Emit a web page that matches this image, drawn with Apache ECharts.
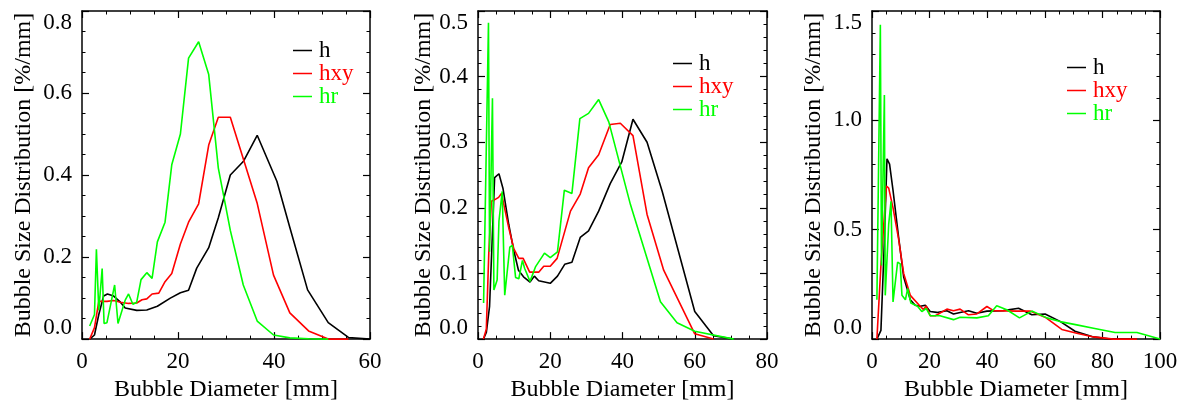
<!DOCTYPE html>
<html>
<head>
<meta charset="utf-8">
<script src="https://cdn.jsdelivr.net/npm/echarts@6/dist/echarts.min.js"></script>
<style>
html,body{margin:0;padding:0;background:#fff;}
#chart{width:1184px;height:407px;}
</style>
</head>
<body>
<div id="chart"></div>
<script>
// ---- Panel 1 data ----
const h1x = [1.6, 2.6, 3.5, 4.5, 5.3, 6.6, 8.0, 9.0, 11.4, 13.5, 15.7, 18.4, 20.5, 22.2, 23.9, 26.4, 28.4, 30.9, 33.6, 36.5, 40.6, 43.3, 47.0, 51.3, 55.5, 60];
const h1y = [0, 0.01, 0.06, 0.105, 0.11, 0.105, 0.09, 0.076, 0.07, 0.071, 0.08, 0.10, 0.113, 0.119, 0.173, 0.223, 0.296, 0.40, 0.433, 0.497, 0.385, 0.272, 0.12, 0.04, 0.004, 0];
const r1x = [1.6, 2.6, 3.5, 5.2, 6.6, 8.0, 9.7, 11.4, 12.5, 13.5, 14.6, 16.0, 17.3, 18.7, 20.5, 22.2, 24.3, 26.4, 28.4, 30.9, 33.6, 36.5, 39.9, 43.3, 47.2, 51.3, 55.5];
const r1y = [0, 0.028, 0.092, 0.092, 0.094, 0.09, 0.087, 0.088, 0.096, 0.098, 0.11, 0.112, 0.14, 0.16, 0.232, 0.285, 0.33, 0.473, 0.541, 0.541, 0.44, 0.331, 0.156, 0.064, 0.02, 0.0, 0];
const g1x = [1.6, 2.6, 3.0, 3.5, 4.2, 4.6, 5.2, 6.8, 7.5, 9.0, 9.7, 10.6, 11.4, 12.3, 13.5, 14.6, 15.7, 17.3, 18.7, 20.5, 22.2, 24.3, 26.4, 28.4, 30.9, 33.6, 36.5, 39.9, 43.3, 47.2, 51.3];
const g1y = [0.032, 0.06, 0.219, 0.07, 0.172, 0.038, 0.04, 0.132, 0.038, 0.095, 0.11, 0.085, 0.09, 0.145, 0.162, 0.148, 0.237, 0.285, 0.425, 0.50, 0.685, 0.725, 0.645, 0.417, 0.265, 0.132, 0.044, 0.01, 0.003, 0.001, 0];

// ---- Panel 2 data ----
const h2x = [1.5, 2.3, 3.2, 4.6, 5.8, 6.9, 8.5, 9.9, 11.2, 12.6, 14.4, 15.6, 16.8, 20.0, 22.0, 24.0, 26.0, 28.3, 30.6, 33.4, 36.6, 39.8, 42.9, 46.8, 51.0, 60.0, 65.2, 70.8];
const h2y = [0, 0.01, 0.05, 0.246, 0.252, 0.23, 0.175, 0.135, 0.105, 0.095, 0.087, 0.096, 0.089, 0.085, 0.096, 0.114, 0.117, 0.155, 0.165, 0.195, 0.237, 0.27, 0.335, 0.30, 0.225, 0.042, 0.005, 0];
const r2x = [1.5, 2.3, 3.0, 3.7, 4.8, 5.7, 6.5, 8.5, 9.9, 11.3, 12.5, 14.3, 16.8, 18.2, 20.0, 21.9, 25.6, 28.3, 30.6, 33.4, 36.6, 39.4, 42.9, 46.8, 51.4, 60.0, 65.2];
const r2y = [0, 0.015, 0.133, 0.21, 0.213, 0.216, 0.222, 0.17, 0.138, 0.123, 0.123, 0.102, 0.102, 0.111, 0.111, 0.123, 0.195, 0.221, 0.261, 0.281, 0.327, 0.329, 0.31, 0.19, 0.105, 0.008, 0];
const g2x = [1.55, 2.9, 3.2, 4.0, 4.4, 5.3, 5.8, 6.7, 7.4, 8.8, 9.5, 10.4, 11.3, 12.3, 12.9, 14.4, 15.9, 18.4, 20.0, 22.0, 23.9, 26.0, 28.2, 30.6, 33.4, 36.2, 42.2, 50.5, 55.1, 60.0, 70.8];
const g2y = [0.055, 0.482, 0.133, 0.367, 0.075, 0.09, 0.18, 0.225, 0.067, 0.14, 0.143, 0.094, 0.092, 0.12, 0.108, 0.088, 0.11, 0.131, 0.124, 0.133, 0.227, 0.222, 0.336, 0.344, 0.365, 0.331, 0.205, 0.057, 0.025, 0.012, 0];

// ---- Panel 3 data ----
const h3x = [1.7, 3.1, 4.3, 5.2, 6.1, 7.3, 9.2, 11.0, 13.3, 15.0, 16.8, 18.5, 20.2, 22.5, 26.0, 28.3, 30.6, 33.5, 36.4, 39.9, 45.6, 50.9, 55.5, 60.1, 65.3, 70.5, 76.9, 82.7, 92];
const h3y = [0, 0.04, 0.45, 0.824, 0.80, 0.68, 0.47, 0.284, 0.18, 0.155, 0.15, 0.155, 0.126, 0.122, 0.13, 0.115, 0.122, 0.13, 0.118, 0.128, 0.13, 0.141, 0.111, 0.115, 0.081, 0.036, 0.01, 0, 0];
const r3x = [1.7, 3.1, 5.0, 5.8, 7.3, 9.2, 11.0, 13.3, 16.8, 17.9, 18.8, 20.2, 22.0, 26.0, 28.3, 30.6, 33.5, 36.4, 39.9, 42.2, 50.3, 54.9, 60.1, 65.9, 71.1, 76.9, 83.8, 92];
const r3y = [0, 0.337, 0.70, 0.69, 0.6, 0.46, 0.30, 0.2, 0.149, 0.135, 0.152, 0.107, 0.107, 0.137, 0.13, 0.137, 0.111, 0.115, 0.149, 0.13, 0.128, 0.128, 0.1, 0.044, 0.027, 0.01, 0, 0];
const g3x = [1.7, 2.9, 3.3, 4.3, 4.6, 5.8, 6.6, 7.3, 8.9, 9.8, 10.4, 11.6, 12.4, 13.5, 15.8, 17.3, 18.8, 20.2, 23.6, 28.3, 30.6, 36.4, 40.4, 43.3, 46.8, 51.2, 55.5, 60.7, 65.3, 71.1, 76.9, 84.4, 92, 100];
const g3y = [0.18, 1.437, 0.337, 1.116, 0.2, 0.526, 0.63, 0.17, 0.352, 0.344, 0.2, 0.18, 0.232, 0.165, 0.15, 0.126, 0.14, 0.107, 0.107, 0.089, 0.1, 0.097, 0.107, 0.152, 0.134, 0.097, 0.128, 0.097, 0.08, 0.065, 0.05, 0.03, 0.03, 0];

const seriesNames = ['h', 'hxy', 'hr'];
const seriesColors = ['#000000', '#ff0000', '#00ff00'];
const xMax = [60, 80, 100];
const yMax = [0.8, 0.5, 1.5];
const yInterval = [0.2, 0.1, 0.5];
const yMinorSplit = [4, 5, 5];
const xInterval = 20;
const xTitle = 'Bubble Diameter [mm]';
const yTitle = 'Bubble Size Distribution [%/mm]';

const panelData = [
  [[h1x, h1y], [r1x, r1y], [g1x, g1y]],
  [[h2x, h2y], [r2x, r2y], [g2x, g2y]],
  [[h3x, h3y], [r3x, r3y], [g3x, g3y]]
];

const FONT = "'Liberation Serif', 'Times New Roman', 'DejaVu Serif', serif";
const gridPos = [
  {left: 82, width: 288},
  {left: 478, width: 289},
  {left: 872, width: 288}
];
const yNameGap = [46, 42, 46];
const legendPos = [
  {left: 288, top: 34},
  {left: 668, top: 47},
  {left: 1062, top: 51}
];

const grids = [], xAxes = [], yAxes = [], series = [], legends = [];
const tick = {show: true, inside: true, length: 7, lineStyle: {color: '#000', width: 1.2}};
const minor = (n) => ({show: true, splitNumber: n, length: 3.5, lineStyle: {color: '#000', width: 1}});
const line = {show: true, onZero: false, lineStyle: {color: '#000', width: 1.5}};

for (let p = 0; p < 3; p++) {
  grids.push({left: gridPos[p].left, width: gridPos[p].width, top: 11, height: 332, containLabel: false});
  const xBase = {type: 'value', gridIndex: p, min: 0, max: xMax[p], interval: xInterval,
    axisLine: line, axisTick: tick, minorTick: minor(4), splitLine: {show: false}};
  xAxes.push(Object.assign({}, xBase, {
    position: 'bottom',
    axisLabel: {show: true, fontFamily: FONT, fontSize: 23, color: '#000', margin: 11},
    name: xTitle, nameLocation: 'middle', nameGap: 37,
    nameTextStyle: {fontFamily: FONT, fontSize: 24, color: '#000'}
  }));
  xAxes.push(Object.assign({}, xBase, {position: 'top', axisLabel: {show: false}}));
  const yBase = {type: 'value', gridIndex: p, min: 0, max: yMax[p], interval: yInterval[p],
    axisLine: line, axisTick: tick, minorTick: minor(yMinorSplit[p]), splitLine: {show: false}};
  yAxes.push(Object.assign({}, yBase, {
    position: 'left',
    axisLabel: {show: true, fontFamily: FONT, fontSize: 23, color: '#000', margin: 10,
      formatter: (v) => v.toFixed(1),
      verticalAlignMinLabel: 'bottom', verticalAlignMaxLabel: 'top'},
    name: yTitle, nameLocation: 'middle', nameGap: yNameGap[p], nameRotate: 90,
    nameTextStyle: {fontFamily: FONT, fontSize: 24, color: '#000'}
  }));
  yAxes.push(Object.assign({}, yBase, {position: 'right', axisLabel: {show: false}}));

  for (let s = 0; s < 3; s++) {
    const xs = panelData[p][s][0], ys = panelData[p][s][1];
    series.push({
      name: seriesNames[s], type: 'line', xAxisIndex: 2 * p, yAxisIndex: 2 * p,
      data: xs.map((x, i) => [x, ys[i]]),
      showSymbol: false, symbol: 'none', smooth: false, animation: false,
      lineStyle: {color: seriesColors[s], width: 1.6},
      itemStyle: {color: seriesColors[s]}
    });
  }
  legends.push({
    orient: 'vertical', left: legendPos[p].left, top: legendPos[p].top,
    itemWidth: 19, itemHeight: 1.5, itemGap: 0, icon: 'rect',
    selectedMode: false,
    data: seriesNames.map((n, i) => ({name: n, itemStyle: {color: seriesColors[i]},
      textStyle: {color: seriesColors[i]}})),
    textStyle: {fontFamily: FONT, fontSize: 23, lineHeight: 22.5, padding: [0, 0, 0, 2]}
  });
}

const chart = echarts.init(document.getElementById('chart'), null, {renderer: 'canvas'});
chart.setOption({
  animation: false,
  backgroundColor: '#fff',
  grid: grids, xAxis: xAxes, yAxis: yAxes, series: series, legend: legends
});
</script>
</body>
</html>
